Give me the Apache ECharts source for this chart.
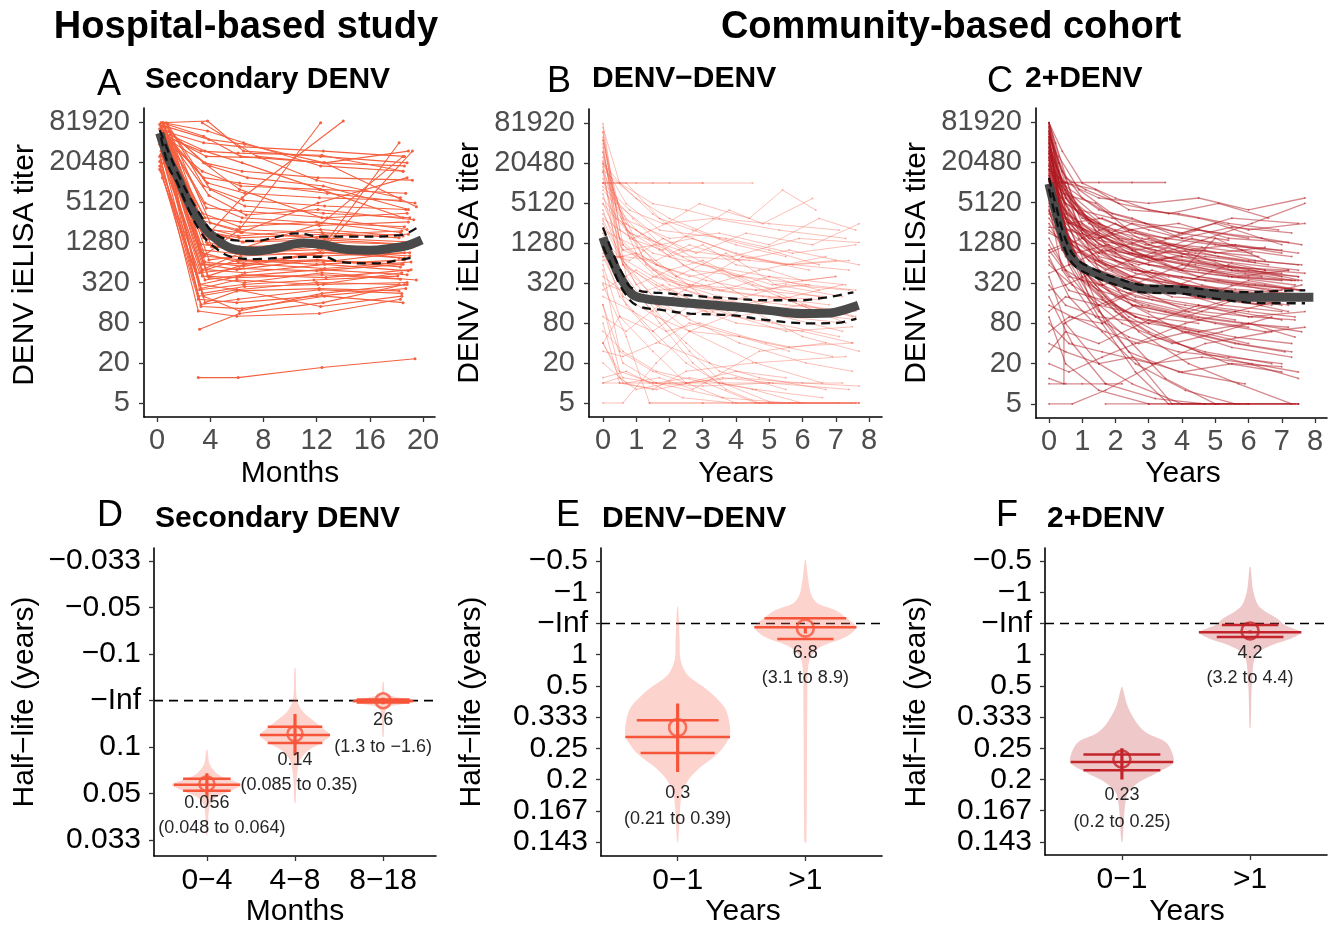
<!DOCTYPE html>
<html>
<head>
<meta charset="utf-8">
<script src="https://cdn.jsdelivr.net/npm/echarts@6/dist/echarts.min.js"></script>
<style>
html, body { margin: 0; padding: 0; background: #fff; }
#main { width: 1340px; height: 929px; }
</style>
</head>
<body>
<div id="main"></div>
<script>
// ---- axis ticks ----
const titerTicks = [5, 20, 80, 320, 1280, 5120, 20480, 81920];
const monthTicks = [0, 4, 8, 12, 16, 20];
const yearTicks = [0, 1, 2, 3, 4, 5, 6, 7, 8];

// ---- panel A: hospital cohort, [month, titer, month, titer, ...] per subject ----
const subjectsA = [
  [0.3,60000, 3.5,600, 6,500, 12,700, 18.5,600],
  [0.5,40000, 3.2,300, 6.2,400, 12.3,500, 18.8,420],
  [0.4,80000, 3.8,1200, 6.5,900, 12.1,1000, 19,800],
  [0.2,25000, 3.1,200, 6,250, 12,320, 18.2,300],
  [0.6,50000, 3.6,800, 6.3,700, 12.5,650, 18.6,900],
  [0.3,30000, 3.3,150, 6.1,180, 12.2,250, 18.4,220],
  [0.8,70000, 4,2500, 6.4,1800, 12,1500, 19.2,1300],
  [0.5,20000, 3.4,400, 6,380, 12.4,420, 18.3,360],
  [0.4,45000, 3.7,500, 6.6,450, 12.6,600, 18.9,480],
  [0.2,65000, 3.5,1500, 6.2,1100, 12.2,1200, 18.5,1000],
  [0.7,35000, 3.2,250, 6.5,300, 11.8,350, 18.1,400],
  [0.3,15000, 3.1,180, 6,160, 12,200, 18.7,260],
  [0.6,55000, 3.9,700, 6.3,800, 12.3,900, 18.6,750],
  [0.4,28000, 3.6,350, 6.4,420, 12.7,380, 19.1,500],
  [0.5,75000, 3.3,900, 6.1,650, 12.1,700, 18.3,550],
  [0.3,42000, 3.4,220, 6.6,280, 12.5,300, 18.8,320],
  [0.9,60000, 4.1,1100, 6.8,950, 12.4,800, 19,900],
  [0.2,18000, 3.2,450, 6.2,520, 12,480, 18.4,600],
  [0.6,33000, 3.6,160, 6,240, 12.2,260, 18.2,240],
  [0.4,52000, 3.8,1800, 6.5,1300, 12.6,1400, 18.9,1200],
  [0.3,70000, 3.6,5000, 6.4,3000, 12.2,2500, 18.6,2200],
  [0.5,45000, 3.4,3500, 6.2,2200, 12,2600, 18.3,1800],
  [0.7,80000, 4,8000, 6.6,4500, 12.5,3500, 19,3000],
  [0.2,38000, 3.3,2200, 6.1,1600, 12.3,2000, 18.5,1600],
  [0.4,62000, 3.7,4200, 6.3,3800, 12.8,3000, 18.8,3500],
  [0.6,55000, 3.9,6500, 6.7,3300, 12.1,4000, 19.3,2800],
  [0.3,26000, 3.2,2800, 6,2000, 12.4,1800, 18.2,1500],
  [0.8,75000, 3.5,9000, 6.5,5500, 12.6,4500, 18.7,4000],
  [0.5,48000, 3.6,3000, 6.3,2600, 12.2,2300, 18.9,2600],
  [0.4,36000, 3.4,1900, 6.2,1500, 12.5,1700, 18.4,1900],
  [0.3,80000, 3.8,85000, 6.5,30000, 12.3,25000, 18.8,20000],
  [0.5,60000, 3.5,40000, 6.2,35000, 12.5,30000, 18.6,25000],
  [0.4,70000, 3.6,20000, 6.4,15000, 12.1,12000, 19.2,11000],
  [0.6,50000, 3.3,30000, 6.1,28000, 12.4,26000, 18.5,15000],
  [0.2,75000, 3.9,45000, 6.6,38000, 12.6,20000, 18.9,30000],
  [0.7,40000, 3.4,15000, 6.3,9000, 12.2,8000, 18.7,7000],
  [0.4,55000, 3.7,25000, 7.7,24000, 12,11000, 18.3,6000],
  [0.3,65000, 3.5,12000, 6.2,10000, 12.8,7000, 19.4,5000],
  [0.5,80000, 3.8,60000, 6.5,40000, 12.3,18000, 18.5,15000],
  [0.8,45000, 4,18000, 6.8,12000, 12.5,9000, 18.9,4000],
  [0.4,30000, 3.5,800, 6.2,2000, 12.3,80000],
  [0.5,20000, 3.6,1500, 6.4,6000, 14,85000],
  [0.3,50000, 3.4,500, 6.3,900, 12.6,1200, 18.2,40000],
  [0.6,40000, 3.8,400, 6.6,600, 12.2,900, 19.2,30000],
  [0.4,25000, 3.3,1200, 6.1,1000, 12.4,2500, 18.5,25000],
  [0.5,60000, 3.7,2000, 6.3,1800, 12.1,5000, 18.8,12000],
  [3.1,12, 6.1,12, 12.4,17, 19.4,23],
  [3.2,64, 6.2,110, 12.5,160, 18.6,300],
  [0.3,22000, 3.1,120, 6,100, 12.2,110, 18.3,180],
  [0.6,30000, 3.3,140, 6.4,130, 12.6,200, 18.5,160],
  [0.4,12000, 3.5,200, 6.2,120, 12.4,220, 18.8,300],
  [0.2,16000, 3.2,300, 6,250, 12.3,140, 18.4,200],
  [0.7,58000, 3.6,650, 6.5,560, 12.5,900, 19.3,1100],
  [0.3,27000, 3.4,480, 6.1,700, 12,600, 18.6,700],
  [0.5,44000, 3.2,1000, 6.3,850, 12.2,1100, 18.2,750],
  [0.4,36000, 3.9,380, 6.6,320, 12.4,450, 19.5,350],
  [0.6,68000, 3.5,2000, 6.4,1300, 12.7,1600, 18.9,1700],
  [0.2,21000, 3.3,260, 6,350, 12.1,300, 18.4,450],
  [0.9,52000, 3.7,1300, 6.2,1000, 12.3,1300, 18.7,1200],
  [0.4,39000, 3.4,600, 6.5,620, 12.6,520, 19.1,650],
  [0.3,60000, 3.6,30000, 6.4,20000, 12.3,8000, 18.5,3000],
  [0.6,70000, 3.5,20000, 6.2,8000, 12.4,3000, 18.8,2000],
  [3.4,80000, 7.5,25000, 12.5,20000, 18.6,18000],
  [0.5,55000, 3.8,10000, 6.6,7000, 12.2,6000, 18.3,5500],
  [0.4,80000, 3.5,50000, 6.3,25000, 12.6,20000, 19.5,4400]
];
const smoothA = [[0.2,56000],[0.9,22000],[1.6,11600],[2.2,6000],[2.9,3200],[3.6,2100],[4.1,1650],[5.6,1040],[7.4,950],[9,1050],[11,1250],[12.5,1180],[14.3,1000],[16,980],[17.5,1040],[18.8,1150],[19.9,1400]];
const upperA = [[0.2,62000],[1,25000],[1.8,11000],[2.6,5500],[3.4,3000],[4.1,1900],[5.5,1400],[7.4,1350],[9,1550],[10.4,1750],[12.5,1560],[15,1560],[18.3,1650],[19.5,2100]];
const lowerA = [[0.3,48000],[0.9,17000],[1.5,10300],[2,6000],[2.6,3200],[3.3,1800],[4.1,1180],[5.6,780],[7.4,720],[9.5,760],[12.5,780],[13.8,650],[16.3,620],[18.3,700],[19.4,780]];

// ---- panel B: DENV-DENV, [year, titer, ...] per subject ----
const subjectsB = [
  [0,80000, 0.5,2000, 1.5,900, 3,600, 5,400, 7.3,300],
  [0,50000, 0.6,1200, 1.6,400, 2.6,300, 4.6,250, 6.6,200],
  [0,30000, 0.4,3000, 1.4,1500, 2.4,800, 4.4,700, 7.4,500],
  [0,20000, 0.7,5000, 1.7,2000, 3.7,1500, 5.7,900, 7.6,1200],
  [0,10240, 1,10240, 2,10240, 3,10240, 4.5,10240],
  [0,10240, 0.8,4000, 1.8,2500, 3.3,3000, 5.3,2000, 7.3,1500],
  [0,40000, 0.5,800, 1.5,200, 2.5,150, 4,80, 6,60, 7.5,40],
  [0,15000, 0.6,600, 1.6,300, 3.1,120, 5.1,80, 7.1,50],
  [0,5000, 0.7,2000, 1.7,1000, 2.7,500, 4.2,400, 6.2,300],
  [0,2500, 0.5,800, 1.5,400, 3.5,200, 5.5,150, 7.6,120],
  [0,1200, 0.6,300, 1.6,150, 2.6,60, 4.6,20, 6.6,10],
  [0,600, 0.5,100, 1.5,30, 2.5,10, 4,5, 7.7,5],
  [0,300, 0.7,50, 1.4,5, 3,5, 5,5, 7.5,5],
  [0,150, 0.6,20, 1.6,10, 2.6,12, 4.6,8, 6.6,6],
  [0,80, 0.5,10, 1.5,8, 2.5,15, 4.5,20, 7.3,25],
  [0,40, 0.6,12, 1.6,10, 3.6,6, 5.6,5, 7.6,5],
  [0,20, 0.7,10, 1.7,12, 2.7,8, 4.7,30, 6.7,40],
  [0,10, 0.5,10, 1.5,10, 3,9, 5,10, 7.4,8],
  [0,5, 0.6,5, 1.6,20, 2.6,60, 4.6,150, 7.2,300],
  [0,8000, 1,2000, 2,800, 3,1200, 4,600, 5,500, 6,350, 7,400],
  [0,25000, 0.8,1500, 1.8,1000, 2.8,2000, 3.8,4000, 4.8,2500, 6.3,6000],
  [0,3000, 0.9,1500, 1.9,2500, 2.9,5000, 4.4,3000, 5.4,8000, 6.4,4000],
  [0,60000, 0.4,5000, 1.4,2000, 2.4,1000, 3.9,800, 5.9,1500, 7.7,1300],
  [0,12000, 0.6,1000, 1.6,1200, 2.6,700, 4.1,400, 6.1,150, 7.6,100],
  [0,700, 1,900, 2,500, 3,700, 4.5,300, 6.5,200],
  [0,400, 0.8,200, 1.8,300, 3.3,120, 5.3,200, 7.3,80],
  [0,200, 0.9,120, 1.9,60, 2.9,80, 4.9,40, 6.9,25],
  [0,1800, 0.5,400, 1.5,120, 2.5,40, 3.5,15, 5.5,8],
  [0,100, 0.7,60, 1.7,150, 2.7,300, 4.2,800, 6.2,500],
  [0,60, 0.6,30, 1.6,15, 3.1,10, 4.6,5, 7.6,5],
  [0,35000, 0.7,400, 1.7,80, 2.7,20, 3.7,8, 4.7,5, 7.7,5],
  [0,20480, 0.5,10240, 1.5,5000, 2.5,4000, 3.5,3000, 5,2500, 7.1,2000],
  [0,4000, 0.6,600, 1.6,180, 2.6,90, 4.1,40, 6.1,20, 7.5,15],
  [0,900, 0.8,700, 1.8,1500, 2.8,900, 4.3,1800, 6.3,1200, 7.7,2500],
  [0,250, 1,500, 2,250, 3,150, 4,100, 5.5,60, 7.5,70],
  [0,9000, 0.9,3000, 2.4,600, 3.9,250, 5.4,100, 7.2,60],
  [0,1500, 0.7,600, 1.7,250, 3.2,300, 4.7,500, 6.7,800],
  [0,45000, 0.3,8000, 1.3,600, 2.3,300, 3.3,250, 4.8,200, 6.8,150],
  [0,18000, 0.6,200, 1.6,100, 2.6,60, 4.1,50, 5.6,30],
  [0,500, 0.5,30, 1.5,15, 2.5,10, 4,12, 6,10, 7.7,9],
  [0,12, 0.7,15, 1.4,10, 2.4,6, 3.9,5, 5.9,5],
  [0,2000, 1.2,1000, 2.2,400, 3.7,900, 5.2,300, 7.2,200],
  [0,6000, 0.8,1800, 2.3,1000, 3.8,400, 5.3,200, 6.8,100, 7.6,90],
  [0,30, 0.6,25, 1.6,40, 2.6,80, 4.1,50, 5.6,35, 7.5,40],
  [0,16000, 1,6000, 2,3000, 3.5,1500, 5,1000, 6.5,600],
  [0,320, 1,200, 2.5,100, 4,180, 5.5,300, 7.4,250],
  [1.4,5, 3,5, 5,5, 7.7,5],
  [0,10240, 1.5,10240, 3,10240],
  [0,10, 0.5,12, 1,8, 2,10, 3.5,10, 5,10],
  [0,7000, 0.6,600, 1.6,120, 2.6,30, 3.6,10, 5.1,5, 7.1,5],
  [0,800, 0.7,150, 1.7,40, 3.2,20, 4.7,12, 6.7,8],
  [0,40, 0.5,100, 1.5,60, 3,200, 4.5,120, 6,50, 7.7,30],
  [0,2800, 1,300, 2,500, 3,200, 4,100, 6,150, 7.5,100],
  [0,22000, 0.6,3000, 2,1500, 3.5,1800, 5,1200, 6.5,3000, 7.6,2000],
  [0,70000, 0.5,10240, 1.5,3500, 2.5,1600, 4,900, 5.5,600, 7,700],
  [0,30000, 0.4,4000, 1.2,800, 2.2,400, 3.5,250, 5,200, 6.5,180],
  [0,60000, 0.3,6000, 1,900, 2,300, 3,200, 4.5,150, 6,120],
  [0,10240, 0.7,10240, 1.7,3000, 2.7,2000, 4,1200, 5.5,800],
  [0,20000, 0.5,1500, 1.5,500, 2.5,250, 4,150, 5.5,100, 7.2,80],
  [0,5000, 0.6,1200, 1.6,500, 2.6,300, 3.6,250, 5,400, 6.5,250],
  [0,15000, 0.7,2500, 1.7,1200, 2.7,1500, 4.2,800, 5.7,600, 7.4,700],
  [0,1000, 0.5,200, 1.5,60, 2.5,20, 3.5,10, 4.5,8, 6,5],
  [0,3500, 0.6,1000, 1.6,600, 3.1,350, 4.6,250, 6.1,300, 7.6,250],
  [0,40, 0.6,10, 1.6,8, 2.6,10, 3.6,12, 5.1,10, 7.2,10],
  [0,150, 0.5,15, 1.5,10, 2.5,10, 4,15, 5.5,12],
  [0,45000, 0.6,2500, 1.6,600, 2.6,400, 3.6,500, 5.1,300, 7,400],
  [0,800, 0.6,800, 1.6,700, 2.6,1200, 4.1,700, 5.6,1000, 7.7,600]
];
const smoothB = [[0,1550],[0.15,950],[0.31,650],[0.45,450],[0.61,330],[0.91,210],[1.3,185],[1.61,176],[2.62,159],[3.97,140],[4.97,124],[5.97,111],[6.6,112],[7,117],[7.68,148]];
const upperB = [[0,2200],[0.3,900],[0.6,430],[0.91,262],[2.1,220],[3.8,188],[4.97,176],[6,176],[6.5,188],[7,205],[7.53,232]];
const lowerB = [[0,1150],[0.3,520],[0.6,250],[1.01,148],[1.8,125],[2.62,111],[3.92,104],[4.97,88],[6.28,79],[7,80],[7.62,93]];

// ---- panel C: 2+DENV, [year, titer, ...] per subject ----
const subjectsC = [
  [0,80000, 0.3,20000, 0.8,5000, 1.8,2000, 2.8,1500, 4.3,1000, 6.3,800],
  [0,60000, 0.4,8000, 1,2000, 2,800, 3,600, 4.5,400, 6.5,300, 7.5,250],
  [0,40000, 0.3,5000, 0.9,1000, 1.9,500, 2.9,300, 4.4,200, 6.4,150],
  [0,30000, 0.5,3000, 1.1,600, 2.1,250, 3.1,180, 4.6,120, 6.1,100, 7.4,90],
  [0,20000, 0.4,2500, 1,400, 2,150, 3,80, 4.5,60, 6,40],
  [0,15000, 0.6,1500, 1.2,300, 2.2,100, 3.2,50, 4.7,30, 6.7,20],
  [0,10240, 0.5,10240, 1.5,10240, 2.5,10240, 3.5,10240],
  [0,50000, 0.3,10000, 0.9,4000, 1.9,3000, 2.9,2500, 4.4,2000, 6.4,1500, 7.6,1200],
  [0,25000, 0.5,6000, 1,3000, 2,2000, 3.5,1500, 5,1200, 7,1000],
  [0,12000, 0.6,4000, 1.2,1500, 2.2,1200, 3.2,900, 4.7,1000, 6.2,700, 7.5,600],
  [0,8000, 0.5,3000, 1.5,800, 2.5,600, 4,300, 5.5,250, 7.7,200],
  [0,5000, 0.4,1200, 1.4,300, 2.4,100, 3.9,40, 5.4,20, 7,15],
  [0,3000, 0.7,800, 1.7,200, 2.7,60, 4.2,20, 5.7,10, 7.3,5],
  [0,1500, 0.5,500, 1.5,120, 2.5,40, 3.5,12, 5,5, 7.5,5],
  [0,800, 0.6,200, 1.6,60, 2.6,20, 4.1,8, 5.6,5],
  [0,400, 0.5,80, 1.5,20, 2.5,10, 4,5, 6,5],
  [0,200, 0.7,40, 1.7,10, 3.2,6, 4.7,5],
  [0,100, 0.5,20, 1.5,8, 3,5, 5,5, 7.4,5],
  [0,45000, 0.4,3000, 1,500, 1.7,80, 2.7,20, 3.7,5, 5.7,5, 7.5,5],
  [0,70000, 0.3,15000, 1,2500, 2,1000, 3,700, 4,500, 5.5,400, 7,350],
  [0,35000, 0.5,2000, 1.2,200, 2.2,80, 3.7,40, 5.2,60, 6.7,100],
  [0,18000, 0.4,1000, 1.4,150, 2.4,30, 3.9,15, 5.9,10],
  [0,9000, 0.6,600, 1.6,80, 2.6,15, 3.6,5, 5.1,5],
  [0,6000, 0.5,2000, 1.5,1500, 2.5,2500, 4,1800, 5.5,3000, 7.5,2500],
  [0,2000, 0.8,900, 1.8,1200, 2.8,800, 4.3,1500, 5.8,1000, 7.3,800],
  [0,1000, 0.6,400, 1.6,300, 3.1,500, 4.6,300, 6.1,200, 7.6,300],
  [0,600, 0.7,300, 1.7,150, 2.7,250, 4.2,120, 5.7,200, 7.2,150],
  [0,300, 0.5,150, 1.5,100, 3,80, 4.5,150, 6,100, 7.7,120],
  [0,150, 0.7,100, 1.7,60, 2.7,40, 4.2,60, 5.7,40, 7.3,30],
  [0,80, 0.6,40, 1.6,30, 3.1,20, 4.6,25, 6.1,20, 7.5,15],
  [0,40, 0.5,30, 1.5,20, 2.5,25, 4,15, 5.5,20, 7,18],
  [0,20, 0.6,15, 1.6,25, 2.6,40, 4.1,80, 5.6,120, 7.4,200],
  [0,10, 0.5,10, 1,10, 1.7,10, 2.2,10],
  [0,5, 0.7,5, 1.7,8, 3.2,20, 4.7,40, 6.7,60],
  [1.7,5, 3,5, 4.5,5, 6,5, 7.5,5],
  [0,80000, 0.4,30000, 1,10000, 2,6000, 3,4000, 4.5,3000, 6,2000, 7.7,2500],
  [0,55000, 0.5,12000, 1.1,8000, 2.1,5000, 3.6,3500, 5.1,5000, 6.6,3000],
  [0,28000, 0.5,9000, 1.5,4000, 2.5,3000, 4,1500, 5.5,2200, 7.3,1800],
  [0,16000, 0.4,7000, 1.4,5000, 2.4,2000, 3.9,2500, 5.4,1500, 7.2,1300],
  [0,11000, 0.6,2500, 1.6,900, 2.6,500, 3.6,400, 5.1,350, 6.6,250, 7.5,180],
  [0,7000, 0.5,1800, 1.2,700, 2.2,400, 3.7,200, 5.2,180, 6.7,150],
  [0,4000, 0.4,1000, 1,600, 2,300, 3,200, 4.5,150, 6,120, 7.4,100],
  [0,2500, 0.6,700, 1.6,350, 2.6,200, 4.1,150, 5.6,120, 7,90],
  [0,1200, 0.5,500, 1.5,250, 3,150, 4.5,100, 6,80, 7.6,60],
  [0,700, 0.6,250, 1.6,180, 2.6,100, 4.1,70, 5.6,50, 7.3,40],
  [0,42000, 0.5,4000, 1.5,1200, 2.5,900, 4,700, 5.5,500, 7.5,400],
  [0,65000, 0.4,6000, 1,1500, 2,700, 3.5,350, 5,250, 6.5,200, 7.8,180],
  [0,24000, 0.5,2200, 1.5,700, 2.5,400, 4,300, 5.5,200, 7,150],
  [0,13000, 0.5,1500, 1.5,500, 2.5,350, 3.5,250, 5,200, 6.5,180],
  [0,9500, 0.7,1200, 1.7,600, 3.2,450, 4.7,350, 6.2,300, 7.7,250],
  [0,32000, 0.6,2600, 1.6,1600, 2.6,1000, 3.6,1200, 5.1,800, 6.6,600],
  [0,48000, 0.3,7000, 0.9,2500, 1.9,1300, 2.9,800, 4.4,600, 5.9,450, 7.4,350],
  [0,19000, 0.5,3500, 1.5,1800, 2.5,1200, 4,800, 5.5,650, 7.5,500],
  [0,27000, 0.4,1500, 1,350, 2,120, 3,60, 4.5,30, 6,20, 7.5,12],
  [0,14000, 0.6,800, 1.6,200, 2.6,100, 4.1,60, 5.6,40, 7.1,30],
  [0,3500, 0.5,1500, 1.5,900, 3,1500, 4.5,700, 6,500, 7.5,400],
  [0,1800, 0.7,1200, 1.7,500, 2.7,800, 4.2,600, 5.7,400, 7.2,500],
  [0,900, 1,1500, 2,2500, 3,1200, 4.5,2000, 6,1500],
  [0,450, 0.6,600, 1.6,1000, 3.1,800, 4.6,1400, 6.1,2500, 7.7,5000],
  [0,250, 0.5,300, 1.5,500, 2.5,300, 4,600, 5.5,400, 7.3,350],
  [0,120, 0.5,200, 1.5,150, 3,300, 4.5,200, 6,350, 7.6,250],
  [0,60, 0.6,100, 1.6,80, 2.6,150, 4.1,100, 5.6,180, 7.2,120],
  [0,30, 0.5,60, 1.5,40, 3,90, 4.5,60, 6,80, 7.4,50],
  [0,16000, 0.5,10240, 1.5,6000, 3,5000, 4.5,6000, 6,4000, 7.7,6000],
  [0,38000, 0.4,10240, 1.4,8000, 2.4,4000, 3.9,3500, 5.4,2500, 6.9,2000],
  [0,80000, 0.2,40000, 0.7,6000, 1.7,1200, 2.7,500, 3.7,250, 5.2,150, 7,120],
  [0,60000, 0.3,20000, 0.8,3000, 1.5,500, 2.5,150, 4,60, 5.5,35, 7.3,25],
  [0,22000, 0.5,5000, 1.5,2500, 2.5,1000, 4,500, 5,1500, 6.5,700],
  [0,5500, 0.6,2500, 1.6,3000, 2.6,1800, 4.1,1000, 5.6,1200, 7.5,900],
  [0,2200, 0.7,2000, 1.7,900, 2.7,600, 4.2,900, 5.7,500, 7,450],
  [0,1000, 0.4,1200, 1.4,700, 2.4,400, 3.9,300, 5.4,600, 7.6,350],
  [0,34000, 0.5,8000, 1.5,3000, 2.5,2000, 3.5,1500, 5,2500, 7,1200],
  [0,8000, 0.5,800, 1.5,300, 2.5,150, 3.5,120, 5,80, 6.5,60, 7.7,70],
  [0,4500, 0.4,500, 1.4,100, 2.4,50, 3.9,30, 5.4,25, 7,20],
  [0,12, 0.45,10, 0.45,80, 1.5,150, 3,100, 4.5,80],
  [0,70000, 0.3,12000, 0.8,4000, 1.5,2500, 2.5,1500, 3.5,1000, 5,700, 6.5,500],
  [0,50000, 0.4,15000, 1,6000, 2,3000, 3,2000, 4,1500, 5.5,1200, 7,900],
  [0,35000, 0.3,9000, 0.9,3500, 1.9,1800, 2.9,1200, 4.4,900, 6,700, 7.6,600],
  [0,28000, 0.5,6000, 1.2,2500, 2.2,1400, 3.2,1000, 4.7,800, 6.2,650],
  [0,22000, 0.4,4500, 1,1800, 2,900, 3,600, 4.5,500, 6,400, 7.5,350],
  [0,45000, 0.3,6000, 0.9,1500, 1.5,700, 2.5,400, 3.5,300, 5,250, 6.5,220],
  [0,60000, 0.4,9000, 1.1,3000, 2.1,1500, 3.1,1300, 4.6,1100, 6.1,900],
  [0,18000, 0.5,5000, 1.5,2200, 2.5,1300, 3.5,800, 5,600, 6.5,500, 7.7,450],
  [0,80000, 0.3,25000, 0.9,8000, 1.9,3500, 2.9,2500, 3.9,1800, 5.4,1400],
  [0,40000, 0.5,7000, 1.5,2000, 2.5,1000, 3.5,600, 4.5,400, 6,300, 7.3,260],
  [0,13000, 0.4,3500, 1.4,1200, 2.4,700, 3.9,500, 5.4,400, 7.4,300],
  [0,9000, 0.5,2500, 1.5,900, 2.5,500, 4,400, 5.5,300, 7,250],
  [0,30000, 0.4,2000, 1,500, 2,200, 3,120, 4.5,90, 6,70],
  [0,55000, 0.3,4000, 0.8,800, 1.8,250, 2.8,150, 4.3,100, 5.8,80, 7.2,70],
  [0,24000, 0.6,1200, 1.6,300, 2.6,180, 4.1,120, 5.6,90],
  [0,16000, 0.5,3000, 1.5,1500, 2.5,2000, 3.5,1300, 5,900, 6.5,1100],
  [0,6500, 0.4,2800, 1.4,1700, 2.4,1100, 3.9,700, 5.4,550, 7.2,500],
  [0,3800, 0.6,1500, 1.6,700, 2.6,450, 4.1,300, 5.6,260, 7.5,220],
  [0,75000, 0.4,10240, 1.4,2000, 2.4,900, 3.4,700, 4.9,500, 6.4,400],
  [0,11000, 0.3,5000, 1,2000, 2,1000, 3,700, 4,800, 5.5,500, 7,400]
];
const smoothC = [[0,9800],[0.21,3700],[0.51,1150],[0.81,650],[1.31,465],[2.11,330],[2.92,262],[3.88,255],[4.94,220],[5.95,196],[6.95,196],[7.95,196]];
const upperC = [[0,12000],[0.21,4600],[0.51,1400],[0.81,760],[1.31,530],[2.11,370],[2.92,295],[3.88,285],[4.94,250],[5.95,235],[6.95,245],[7.7,250]];
const lowerC = [[0,8200],[0.21,3000],[0.51,950],[0.81,560],[1.31,410],[2.11,290],[2.92,230],[3.88,225],[4.94,190],[5.95,165],[6.95,160],[7.7,160]];

// ---- bottom row: half-life shown on a decay-rate axis (1 / half-life, per year) ----
const rateTicksD = [-30, -20, -10, 0, 10, 20, 30];
const rateLabelsD = ['−0.033', '−0.05', '−0.1', '−Inf', '0.1', '0.05', '0.033'];
const rateTicksEF = [-2, -1, 0, 1, 2, 3, 4, 5, 6, 7];
const rateLabelsEF = ['−0.5', '−1', '−Inf', '1', '0.5', '0.333', '0.25', '0.2', '0.167', '0.143'];
const catsD = ['0−4', '4−8', '8−18'];
const catsEF = ['0−1', '>1'];

const halfLifeD = [0.056, 0.14, 26];
const ciD = [[0.048, 0.064], [0.085, 0.35], [1.3, -1.6]];
const ciTextD = ['(0.048 to 0.064)', '(0.085 to 0.35)', '(1.3 to −1.6)'];
const halfLifeE = [0.3, 6.8];
const ciE = [[0.21, 0.39], [3.1, 8.9]];
const ciTextE = ['(0.21 to 0.39)', '(3.1 to 8.9)'];
const halfLifeF = [0.23, 4.2];
const ciF = [[0.2, 0.25], [3.2, 4.4]];
const ciTextF = ['(0.2 to 0.25)', '(3.2 to 4.4)'];

// violin outlines: [decay rate, half width in category units]
const violinD = [
  [[10.6,0.006],[13.8,0.034],[16.0,0.136],[17.1,0.284],[18.1,0.398],[19.2,0.295],[20.7,0.114],[22.4,0.034],[28.9,0.006]],
  [[-7.0,0.006],[-0.15,0.023],[2.4,0.091],[4.6,0.227],[6.3,0.341],[7.4,0.398],[8.9,0.318],[10.6,0.159],[12.8,0.057],[16.0,0.023],[22.0,0.006]],
  [[-4.0,0.006],[-1.66,0.023],[-0.8,0.136],[-0.15,0.341],[0.28,0.375],[0.92,0.17],[1.78,0.034],[7.8,0.006]]
];
const violinE = [
  [[-0.53,0.004],[0.53,0.016],[1.17,0.023],[1.65,0.078],[2.13,0.234],[2.68,0.367],[3.19,0.406],[3.64,0.406],[4.15,0.32],[4.6,0.18],[5.0,0.086],[5.49,0.031],[7.0,0.004]],
  [[-2.03,0.004],[-1.39,0.023],[-0.91,0.047],[-0.65,0.094],[-0.43,0.234],[-0.2,0.313],[0.12,0.398],[0.44,0.313],[0.76,0.117],[1.17,0.031],[2.45,0.016],[7.0,0.008]]
];
const violinF = [
  [[2.04,0.004],[2.68,0.047],[3.19,0.116],[3.51,0.194],[3.83,0.349],[4.44,0.403],[4.79,0.271],[5.11,0.124],[5.49,0.039],[7.0,0.004]],
  [[-1.81,0.004],[-1.07,0.023],[-0.59,0.062],[-0.37,0.124],[-0.17,0.209],[0.05,0.271],[0.28,0.395],[0.47,0.326],[0.69,0.171],[1.01,0.047],[1.81,0.016],[3.35,0.004]]
];
// quartile lines drawn across each violin: [decay rate, half width]
const quantD = [
  [[16.8,0.27],[18.1,0.375],[19.4,0.27]],
  [[5.6,0.31],[7.4,0.398],[9.1,0.31]],
  [[-0.26,0.3],[0.06,0.34],[0.39,0.3]]
];
const quantE = [
  [[3.1,0.32],[3.64,0.41],[4.15,0.29]],
  [[-0.17,0.32],[0.12,0.4],[0.5,0.22]]
];
const quantF = [
  [[4.2,0.3],[4.44,0.4],[4.7,0.3]],
  [[0.05,0.22],[0.28,0.4],[0.43,0.26]]
];

// ---- layout ----
const FONT = '"Liberation Sans", Arial, Helvetica, sans-serif';
const grids = [
  { left: 144, top: 108, width: 291, height: 309 },
  { left: 589, top: 109, width: 293, height: 308 },
  { left: 1036, top: 108, width: 291, height: 310 },
  { left: 154, top: 548, width: 282, height: 308 },
  { left: 601, top: 548, width: 281, height: 308 },
  { left: 1045, top: 548, width: 282, height: 307 }
];
// pixel offsets of estimate / CI text below each estimate: [dxEst, dyEst, dxCI, dyCI]
const labelOffsets = {
  D: [[0, 19, 15, 44], [0, 26, 4, 51], [0, 19, 0, 46]],
  E: [[0, 65, 0, 91], [0, 25, 0, 50]],
  F: [[0, 36, 0, 63], [0, 22, 0, 47]]
};
const colA = '#F5603F';
const colB = 'rgba(245,92,70,0.38)';
const colC = 'rgba(176,22,30,0.5)';
const colDE = '#F7553A';
const fillDE = 'rgba(247,110,92,0.3)';
const colF = '#C2242B';
const fillF = 'rgba(196,62,66,0.28)';
const curveCol = '#4A4A4A';

const lg = v => Math.log(v / 5) / Math.log(4);
const toPts = flat => {
  const out = [];
  for (let i = 0; i < flat.length; i += 2) out.push([flat[i], lg(flat[i + 1])]);
  return out;
};
const curvePts = arr => arr.map(p => [p[0], lg(p[1])]);

const axisLine = { show: true, onZero: false, lineStyle: { color: '#000', width: 1.6 } };
const tickStyle = { color: '#333', width: 1.3 };

const xAxes = [];
const yAxes = [];
function topAxes(gi, xmin, xmax, xticks) {
  xAxes.push({
    gridIndex: gi, type: 'value', min: xmin, max: xmax,
    axisLine: axisLine, splitLine: { show: false },
    axisTick: { show: true, length: 5, customValues: xticks, lineStyle: tickStyle },
    axisLabel: { customValues: xticks, color: '#4D4D4D', fontSize: 29, fontFamily: FONT, margin: 9 }
  });
  const yt = titerTicks.map(lg);
  yAxes.push({
    gridIndex: gi, type: 'value', min: -0.35, max: 7.35,
    axisLine: axisLine, splitLine: { show: false },
    axisTick: { show: true, length: 5, customValues: yt, lineStyle: tickStyle },
    axisLabel: {
      customValues: yt, color: '#4D4D4D', fontSize: 29, fontFamily: FONT, margin: 14,
      formatter: v => String(Math.round(5 * Math.pow(4, v)))
    }
  });
}
function bottomAxes(gi, xmax, cats, ymin, ymax, ticks, labels) {
  const xt = cats.map((c, i) => i + 1);
  xAxes.push({
    gridIndex: gi, type: 'value', min: 0.4, max: xmax,
    axisLine: axisLine, splitLine: { show: false },
    axisTick: { show: true, length: 5, customValues: xt, lineStyle: tickStyle },
    axisLabel: {
      customValues: xt, color: '#000', fontSize: 30, fontFamily: FONT, margin: 10,
      formatter: v => cats[Math.round(v) - 1]
    }
  });
  yAxes.push({
    gridIndex: gi, type: 'value', min: ymin, max: ymax, inverse: true,
    axisLine: axisLine, splitLine: { show: false },
    axisTick: { show: true, length: 5, customValues: ticks, lineStyle: tickStyle },
    axisLabel: {
      customValues: ticks, color: '#000', fontSize: 30, fontFamily: FONT, margin: 13,
      formatter: v => labels[ticks.indexOf(Math.round(v))]
    }
  });
}
topAxes(0, -0.98, 20.9, monthTicks);
topAxes(1, -0.42, 8.39, yearTicks);
topAxes(2, -0.39, 8.36, yearTicks);
bottomAxes(3, 3.6, catsD, -32.8, 33.4, rateTicksD, rateLabelsD);
bottomAxes(4, 2.6, catsEF, -2.42, 7.45, rateTicksEF, rateLabelsEF);
bottomAxes(5, 2.6, catsEF, -2.42, 7.42, rateTicksEF, rateLabelsEF);

const series = [];
function trajectories(gi, list, color, width, sym) {
  list.forEach(flat => series.push({
    type: 'line', xAxisIndex: gi, yAxisIndex: gi, data: toPts(flat),
    symbol: 'circle', symbolSize: sym, showSymbol: true,
    itemStyle: { color: color }, lineStyle: { color: color, width: width },
    silent: true, z: 1
  }));
}
function fitCurves(gi, mid, up, low) {
  series.push({
    type: 'line', xAxisIndex: gi, yAxisIndex: gi, data: curvePts(mid), smooth: 0.4,
    symbol: 'none', lineStyle: { color: curveCol, width: 9, cap: 'butt' }, silent: true, z: 3
  });
  [up, low].forEach(c => series.push({
    type: 'line', xAxisIndex: gi, yAxisIndex: gi, data: curvePts(c), smooth: 0.4,
    symbol: 'none', lineStyle: { color: '#111', width: 2.3, type: [9, 6] }, silent: true, z: 4
  }));
}
trajectories(0, subjectsA, colA, 1.1, 3);
fitCurves(0, smoothA, upperA, lowerA);
trajectories(1, subjectsB, colB, 1, 2);
fitCurves(1, smoothB, upperB, lowerB);
trajectories(2, subjectsC, colC, 1.3, 2);
fitCurves(2, smoothC, upperC, lowerC);

function halfLifePanel(gi, violins, quants, est, ci, ciText, offs, xmax, line, fill, circle) {
  // dashed reference at infinite half-life
  series.push({
    type: 'line', xAxisIndex: gi, yAxisIndex: gi, data: [[0.4, 0], [xmax, 0]],
    symbol: 'none', lineStyle: { color: '#000', width: 1.6, type: [9, 6] }, silent: true, z: 1
  });
  violins.forEach((prof, i) => {
    const c = i + 1;
    series.push({
      type: 'custom', xAxisIndex: gi, yAxisIndex: gi, data: [[c, 0]], silent: true, z: 2,
      renderItem: (params, api) => {
        const pts = [];
        prof.forEach(p => pts.push(api.coord([c + p[1], p[0]])));
        for (let k = prof.length - 1; k >= 0; k--) pts.push(api.coord([c - prof[k][1], prof[k][0]]));
        return { type: 'polygon', shape: { points: pts, smooth: 0.3 }, style: { fill: fill } };
      }
    });
    quants[i].forEach(q => series.push({
      type: 'line', xAxisIndex: gi, yAxisIndex: gi, data: [[c - q[1], q[0]], [c + q[1], q[0]]],
      symbol: 'none', lineStyle: { color: line, width: 2.5 }, silent: true, z: 3
    }));
    series.push({
      type: 'line', xAxisIndex: gi, yAxisIndex: gi, data: [[c, 1 / ci[i][0]], [c, 1 / ci[i][1]]],
      symbol: 'none', lineStyle: { color: line, width: 3.2 }, silent: true, z: 3
    });
    series.push({
      type: 'scatter', xAxisIndex: gi, yAxisIndex: gi, data: [[c, 1 / est[i]]],
      symbol: 'circle', symbolSize: circle,
      itemStyle: { color: 'rgba(0,0,0,0)', borderColor: line, borderWidth: 2.6 }, silent: true, z: 4
    });
    const o = offs[i];
    series.push({
      type: 'custom', xAxisIndex: gi, yAxisIndex: gi, data: [[c, 1 / est[i]]], silent: true, z: 5,
      renderItem: (params, api) => {
        const p = api.coord([c, 1 / est[i]]);
        const f = '18px ' + FONT;
        return {
          type: 'group', children: [
            { type: 'text', x: p[0] + o[0], y: p[1] + o[1], style: { text: String(est[i]), font: f, fill: '#262626', align: 'center', verticalAlign: 'middle' } },
            { type: 'text', x: p[0] + o[2], y: p[1] + o[3], style: { text: ciText[i], font: f, fill: '#262626', align: 'center', verticalAlign: 'middle' } }
          ]
        };
      }
    });
  });
}
halfLifePanel(3, violinD, quantD, halfLifeD, ciD, ciTextD, labelOffsets.D, 3.6, colDE, fillDE, 15);
halfLifePanel(4, violinE, quantE, halfLifeE, ciE, ciTextE, labelOffsets.E, 2.6, colDE, fillDE, 17);
halfLifePanel(5, violinF, quantF, halfLifeF, ciF, ciTextF, labelOffsets.F, 2.6, colF, fillF, 17);

// ---- titles and axis names ----
const texts = [
  { t: 'Hospital-based study', x: 246, y: 28, size: 38, bold: true, align: 'center' },
  { t: 'Community-based cohort', x: 951, y: 28, size: 38, bold: true, align: 'center' },
  { t: 'A', x: 97, y: 85, size: 36 }, { t: 'Secondary DENV', x: 145, y: 80, size: 30, bold: true },
  { t: 'B', x: 547, y: 82, size: 36 }, { t: 'DENV−DENV', x: 592, y: 79, size: 30, bold: true },
  { t: 'C', x: 987, y: 82, size: 36 }, { t: '2+DENV', x: 1025, y: 79, size: 30, bold: true },
  { t: 'D', x: 97, y: 516, size: 36 }, { t: 'Secondary DENV', x: 155, y: 519, size: 30, bold: true },
  { t: 'E', x: 556, y: 516, size: 36 }, { t: 'DENV−DENV', x: 602, y: 519, size: 30, bold: true },
  { t: 'F', x: 996, y: 516, size: 36 }, { t: '2+DENV', x: 1047, y: 519, size: 30, bold: true },
  { t: 'DENV iELISA titer', x: 25, y: 265, size: 30, align: 'center', rot: true },
  { t: 'DENV iELISA titer', x: 470, y: 263, size: 30, align: 'center', rot: true },
  { t: 'DENV iELISA titer', x: 917, y: 263, size: 30, align: 'center', rot: true },
  { t: 'Months', x: 290, y: 474, size: 30, align: 'center' },
  { t: 'Years', x: 736, y: 474, size: 30, align: 'center' },
  { t: 'Years', x: 1183, y: 474, size: 30, align: 'center' },
  { t: 'Half−life (years)', x: 25, y: 702, size: 30, align: 'center', rot: true },
  { t: 'Half−life (years)', x: 472, y: 702, size: 30, align: 'center', rot: true },
  { t: 'Half−life (years)', x: 917, y: 702, size: 30, align: 'center', rot: true },
  { t: 'Months', x: 295, y: 912, size: 30, align: 'center' },
  { t: 'Years', x: 743, y: 912, size: 30, align: 'center' },
  { t: 'Years', x: 1187, y: 912, size: 30, align: 'center' }
];

const chart = echarts.init(document.getElementById('main'), null, { renderer: 'canvas' });
chart.setOption({
  backgroundColor: '#fff',
  animation: false,
  grid: grids,
  xAxis: xAxes,
  yAxis: yAxes,
  series: series,
  graphic: texts.map(o => ({
    type: 'text', x: o.x, y: o.y, rotation: o.rot ? Math.PI / 2 : 0, silent: true,
    style: {
      text: o.t, font: (o.bold ? 'bold ' : '') + o.size + 'px ' + FONT, fill: '#000',
      align: o.align || 'left', verticalAlign: 'middle'
    }
  }))
});
</script>
</body>
</html>
